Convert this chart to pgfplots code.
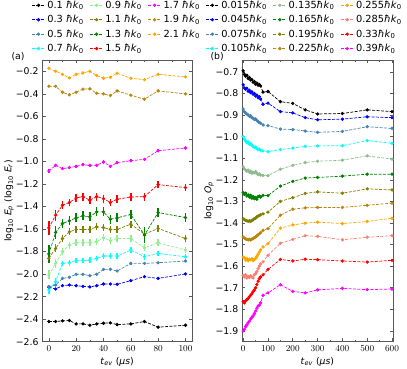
\documentclass[border=0pt]{standalone}
\usepackage{fontspec}
\setmainfont{DejaVu Sans}
\usepackage{pgfplots}
\pgfplotsset{compat=1.18}
\usepackage{pgfplotstable}

\definecolor{steelblue}{HTML}{4682B4}
\definecolor{lightgreen}{HTML}{90EE90}
\definecolor{seagreen}{HTML}{8FBC8F}
\definecolor{mgreen}{HTML}{008000}
\definecolor{molive}{HTML}{808000}
\definecolor{goldenrod}{HTML}{B8860B}
\definecolor{morange}{HTML}{FFA500}
\definecolor{salmon}{HTML}{FA8072}
\definecolor{mred}{HTML}{FF0000}
\definecolor{mmagenta}{HTML}{FF00FF}
\definecolor{mcyan}{HTML}{00FFFF}
\definecolor{mblue}{HTML}{0000FF}

\newcommand{\fs}{\fontsize{9.3}{11}\selectfont}
\newcommand{\fl}{\fontsize{9.8}{11}\selectfont}
\newcommand{\hk}{\textit{ħk}\textsubscript{0}}

% panel (a): t, value and error per momentum
\pgfplotstableread{
t   k01    e01   k03    e03   k05    e05   k07    e07   k09    e09   k11    e11   k13    e13   k15    e15   k17    e17   k19    e19  k21    e21
0   -2.421 0.005 -2.117 0.006 -2.112 0.010 -2.141 0.040 -2.008 0.040 -1.860 0.040 -1.820 0.080 -1.590 0.065 -1.085 0.020 -0.333 0.004 -0.173 0.004
5   -2.421 0.005 -2.132 0.006 -2.097 0.010 -2.067 0.030 -1.905 0.040 -1.772 0.035 -1.631 0.060 -1.477 0.050 -1.035 0.015 -0.333 0.004 -0.200 0.004
10  -2.415 0.005 -2.103 0.006 -2.038 0.010 -1.905 0.025 -1.802 0.030 -1.684 0.030 -1.551 0.040 -1.389 0.035 -1.064 0.015 -0.386 0.004 -0.227 0.004
15  -2.412 0.005 -2.097 0.006 -2.029 0.010 -1.899 0.025 -1.743 0.030 -1.625 0.030 -1.527 0.040 -1.365 0.035 -1.055 0.015 -0.409 0.004 -0.259 0.004
20  -2.442 0.005 -2.103 0.006 -2.002 0.010 -1.881 0.025 -1.722 0.030 -1.604 0.030 -1.501 0.040 -1.324 0.035 -1.044 0.015 -0.386 0.004 -0.227 0.004
25  -2.442 0.005 -2.109 0.006 -2.002 0.010 -1.881 0.025 -1.722 0.030 -1.604 0.030 -1.483 0.040 -1.312 0.035 -1.029 0.015 -0.359 0.004 -0.215 0.004
30  -2.454 0.005 -2.114 0.006 -2.014 0.010 -1.876 0.025 -1.722 0.030 -1.604 0.030 -1.492 0.040 -1.345 0.035 -1.035 0.015 -0.356 0.004 -0.200 0.004
35  -2.442 0.005 -2.103 0.006 -2.002 0.010 -1.861 0.025 -1.713 0.030 -1.581 0.030 -1.448 0.040 -1.312 0.035 -1.035 0.015 -0.395 0.004 -0.238 0.004
40  -2.436 0.005 -2.088 0.006 -1.958 0.010 -1.840 0.025 -1.678 0.030 -1.587 0.030 -1.448 0.040 -1.330 0.035 -1.005 0.015 -0.401 0.004 -0.262 0.004
45  -2.433 0.005 -2.088 0.006 -1.958 0.010 -1.840 0.025 -1.704 0.030 -1.604 0.030 -1.513 0.040 -1.365 0.035 -1.044 0.015 -0.415 0.004 -0.253 0.004
50  -2.448 0.005 -2.091 0.006 -1.973 0.010 -1.840 0.025 -1.684 0.030 -1.604 0.030 -1.501 0.040 -1.336 0.035 -1.011 0.015 -0.374 0.004 -0.218 0.004
60  -2.442 0.005 -2.058 0.006 -1.905 0.010 -1.787 0.025 -1.684 0.030 -1.557 0.030 -1.471 0.040 -1.316 0.035 -0.994 0.015 -0.412 0.004 -0.262 0.004
70  -2.421 0.005 -2.023 0.006 -1.905 0.010 -1.846 0.025 -1.767 0.030 -1.646 0.030 -1.654 0.070 -1.312 0.035 -0.982 0.015 -0.448 0.004 -0.274 0.004
80  -2.471 0.005 -2.038 0.006 -1.899 0.010 -1.817 0.025 -1.722 0.030 -1.595 0.030 -1.454 0.040 -1.206 0.030 -0.905 0.015 -0.374 0.004 -0.227 0.004
100 -2.454 0.005 -1.999 0.006 -1.884 0.010 -1.846 0.025 -1.787 0.030 -1.684 0.030 -1.498 0.040 -1.232 0.030 -0.881 0.015 -0.401 0.004 -0.250 0.004
}\tabA

% panel (b)
\pgfplotstableread{
t   b015   b045   b075   b105   b135   b165   b195   b225   b255   b285   b330   b390
0   -0.695 -0.760 -0.872 -1.000 -1.140 -1.259 -1.381 -1.465 -1.558 -1.643 -1.764 -1.900
5   -0.712 -0.775 -0.885 -1.012 -1.150 -1.268 -1.384 -1.470 -1.562 -1.650 -1.770 -1.892
10  -0.720 -0.780 -0.890 -1.020 -1.155 -1.262 -1.388 -1.474 -1.572 -1.640 -1.760 -1.880
15  -0.716 -0.776 -0.895 -1.028 -1.160 -1.275 -1.390 -1.476 -1.565 -1.655 -1.755 -1.872
20  -0.731 -0.790 -0.900 -1.025 -1.155 -1.270 -1.392 -1.478 -1.575 -1.648 -1.750 -1.862
25  -0.726 -0.785 -0.906 -1.035 -1.165 -1.280 -1.390 -1.476 -1.568 -1.652 -1.742 -1.855
30  -0.738 -0.796 -0.903 -1.032 -1.160 -1.272 -1.393 -1.479 -1.570 -1.645 -1.735 -1.845
35  -0.735 -0.792 -0.912 -1.040 -1.170 -1.285 -1.388 -1.475 -1.566 -1.650 -1.728 -1.838
40  -0.748 -0.803 -0.915 -1.045 -1.165 -1.278 -1.385 -1.472 -1.575 -1.655 -1.718 -1.830
45  -0.745 -0.800 -0.920 -1.050 -1.168 -1.288 -1.380 -1.468 -1.568 -1.640 -1.710 -1.820
50  -0.757 -0.812 -0.918 -1.048 -1.162 -1.282 -1.378 -1.465 -1.565 -1.635 -1.700 -1.808
55  -0.752 -0.808 -0.925 -1.055 -1.170 -1.290 -1.372 -1.460 -1.555 -1.625 -1.685 -1.795
60  -0.762 -0.820 -0.930 -1.060 -1.175 -1.278 -1.368 -1.455 -1.545 -1.612 -1.670 -1.785
65  -0.758 -0.815 -0.935 -1.058 -1.172 -1.275 -1.365 -1.450 -1.535 -1.600 -1.658 -1.780
70  -0.765 -0.826 -0.938 -1.063 -1.178 -1.280 -1.362 -1.445 -1.525 -1.590 -1.650 -1.770
80  -0.794 -0.850 -0.946 -1.066 -1.180 -1.272 -1.358 -1.434 -1.511 -1.580 -1.640 -1.735
100 -0.791 -0.845 -0.949 -1.070 -1.181 -1.273 -1.350 -1.426 -1.496 -1.550 -1.615 -1.724
150 -0.838 -0.884 -0.965 -1.060 -1.151 -1.229 -1.300 -1.364 -1.424 -1.494 -1.569 -1.686
200 -0.846 -0.890 -0.967 -1.053 -1.133 -1.207 -1.283 -1.336 -1.409 -1.476 -1.576 -1.717
250 -0.876 -0.912 -0.974 -1.045 -1.120 -1.192 -1.263 -1.330 -1.401 -1.459 -1.568 -1.724
300 -0.895 -0.922 -0.980 -1.043 -1.114 -1.189 -1.256 -1.328 -1.396 -1.462 -1.570 -1.710
400 -0.893 -0.919 -0.976 -1.042 -1.109 -1.183 -1.262 -1.328 -1.403 -1.478 -1.576 -1.703
500 -0.876 -0.908 -0.954 -1.018 -1.089 -1.174 -1.242 -1.318 -1.393 -1.466 -1.581 -1.709
600 -0.884 -0.912 -0.962 -1.031 -1.104 -1.174 -1.247 -1.308 -1.378 -1.459 -1.573 -1.706
}\tabB

\pgfplotsset{
  panel/.style={
    scale only axis, height=281.7pt,
    axis line style={black!65}, tick style={black!65, line width=0.6pt},
    major tick length=3.5pt, minor tick length=2pt,
    tick label style={font=\fs}, label style={font=\fs},
    legend columns=3, legend cell align=left,
    legend style={draw=none, fill=none, font=\fl, anchor=north west,
      /tikz/every even column/.append style={column sep=4pt},
      row sep=1.5pt},
    legend image code/.code={%
      \draw[mark repeat=2,mark phase=2,##1] plot coordinates {(0pt,0pt) (6.5pt,0pt) (13pt,0pt)};},
  },
  ser/.style={color=#1, dash pattern=on 3pt off 1.4pt, line width=0.7pt,
    mark=*, mark size=1.3pt, mark options={solid, fill=#1}},
  serr/.style={ser=#1, error bars/.cd, y dir=both, y explicit, error mark=none,
    error bar style={line width=1.4pt, solid, color=#1}},
}

\newcommand{\pa}[3]{\addplot[serr=#1] table[x=t, y=#2, y error=#3] {\tabA};}
\newcommand{\pb}[2]{\addplot[ser=#1] table[x=t, y=#2] {\tabB};}

\begin{document}
\begin{tikzpicture}
\useasboundingbox (0,0) rectangle (407pt,369pt);

\begin{axis}[panel, at={(42pt,27.3pt)}, anchor=south west, width=150.3pt,
  xmin=-5, xmax=105, ymin=-2.6, ymax=-0.1,
  xtick={0,20,40,60,80,100}, minor x tick num=1,
  ytick={-2.6,-2.4,-2.2,-2.0,-1.8,-1.6,-1.4,-1.2,-1.0,-0.8,-0.6,-0.4,-0.2},
  yticklabels={−2.6,−2.4,−2.2,−2.0,−1.8,−1.6,−1.4,−1.2,−1.0,−0.8,−0.6,−0.4,−0.2},
  xlabel={\textit{t}\textsubscript{\textit{ev}} (\textit{µs})},
  ylabel={log\textsubscript{10} \textit{E}\textsubscript{\textit{p}} (log\textsubscript{10} \textit{E}\textsubscript{\textit{r}})},
  xlabel style={at={(axis description cs:0.5,-0.072)}, anchor=center},
  ylabel style={at={(axis description cs:-0.22,0.5)}, anchor=center},
  legend style={at={(axis description cs:-0.09,1.225)}},
]
\pa{black}{k01}{e01}      \addlegendentry{0.1 \hk}
\pa{lightgreen}{k09}{e09} \addlegendentry{0.9 \hk}
\pa{mmagenta}{k17}{e17}   \addlegendentry{1.7 \hk}
\pa{mblue}{k03}{e03}      \addlegendentry{0.3 \hk}
\pa{molive}{k11}{e11}     \addlegendentry{1.1 \hk}
\pa{goldenrod}{k19}{e19}  \addlegendentry{1.9 \hk}
\pa{steelblue}{k05}{e05}  \addlegendentry{0.5 \hk}
\pa{mgreen}{k13}{e13}     \addlegendentry{1.3 \hk}
\pa{morange}{k21}{e21}    \addlegendentry{2.1 \hk}
\pa{mcyan}{k07}{e07}      \addlegendentry{0.7 \hk}
\pa{mred}{k15}{e15}       \addlegendentry{1.5 \hk}
\end{axis}

\begin{axis}[panel, at={(241.7pt,27.3pt)}, anchor=south west, width=151.3pt,
  xmin=-6, xmax=604, ymin=-1.95, ymax=-0.645,
  xtick={0,100,200,300,400,500,600}, minor x tick num=1,
  ytick={-1.9,-1.8,-1.7,-1.6,-1.5,-1.4,-1.3,-1.2,-1.1,-1.0,-0.9,-0.8,-0.7},
  yticklabels={−1.9,−1.8,−1.7,−1.6,−1.5,−1.4,−1.3,−1.2,−1.1,−1.0,−0.9,−0.8,−0.7},
  xlabel={\textit{t}\textsubscript{\textit{ev}} (\textit{µs})},
  ylabel={log\textsubscript{10} \textit{O}\textsubscript{\textit{p}}},
  xlabel style={at={(axis description cs:0.5,-0.072)}, anchor=center},
  ylabel style={at={(axis description cs:-0.216,0.5)}, anchor=center},
  legend style={at={(axis description cs:-0.26,1.225)}},
]
\pb{black}{b015}     \addlegendentry{0.015\hk}
\pb{seagreen}{b135}  \addlegendentry{0.135\hk}
\pb{morange}{b255}   \addlegendentry{0.255\hk}
\pb{mblue}{b045}     \addlegendentry{0.045\hk}
\pb{mgreen}{b165}    \addlegendentry{0.165\hk}
\pb{salmon}{b285}    \addlegendentry{0.285\hk}
\pb{steelblue}{b075} \addlegendentry{0.075\hk}
\pb{molive}{b195}    \addlegendentry{0.195\hk}
\pb{mred}{b330}      \addlegendentry{0.33\hk}
\pb{mcyan}{b105}     \addlegendentry{0.105\hk}
\pb{goldenrod}{b225} \addlegendentry{0.225\hk}
\pb{mmagenta}{b390}  \addlegendentry{0.39\hk}
\end{axis}

\node[font=\fs, anchor=west] at (8pt,312pt) {(a)};
\node[font=\fs, anchor=west] at (207pt,312pt) {(b)};
\end{tikzpicture}
\end{document}
